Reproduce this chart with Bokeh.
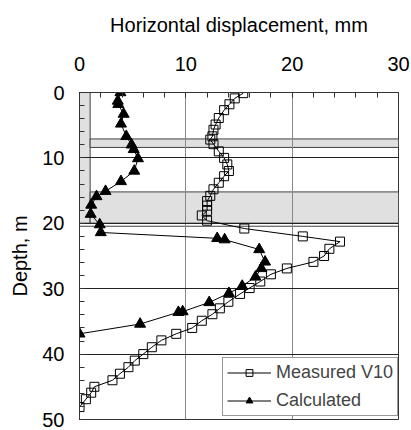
from bokeh.plotting import figure
from bokeh.models import Range1d, SingleIntervalTicker, Legend, LegendItem
from bokeh.embed import file_html
from bokeh.resources import INLINE

# Measured V10 (displacement mm, depth m)
measured_disp = [15.4, 14.6, 14.1, 13.6, 13.1, 12.8, 12.6, 12.5, 12.3, 12.6, 13.1, 13.6, 13.9,
                 14.05, 13.6, 13.1, 12.6, 12.3, 12.0, 12.0, 12.0, 11.5, 12.0, 15.5, 21.0, 24.5,
                 23.5, 23.0, 22.0, 19.5, 18.0, 17.0, 16.0, 15.1, 14.0, 13.2, 12.5, 11.5, 10.6,
                 9.1, 7.7, 6.8, 6.0, 5.2, 4.6, 3.8, 3.1, 1.4, 1.1, 0.6, 0.0]
measured_depth = [0.1, 0.9, 1.8, 2.7, 3.9, 4.9, 5.7, 6.7, 7.2, 7.9, 9.0, 10.0, 11.0,
                  12.0, 12.8, 13.8, 14.8, 15.8, 16.6, 17.3, 18.1, 18.8, 19.6, 20.8, 22.0, 22.8,
                  23.9, 25.0, 25.9, 26.9, 27.8, 28.9, 29.9, 30.8, 32.0, 33.0, 33.9, 34.9, 36.0,
                  36.9, 37.9, 38.95, 40.0, 41.0, 42.0, 43.0, 44.0, 45.0, 45.9, 46.9, 48.1]

# Calculated
calc_disp = [3.85, 3.6, 3.65, 4.15, 3.9, 4.4, 4.9, 5.1, 5.5, 5.15, 3.9, 2.45, 1.6, 1.1, 1.05,
             1.9, 2.0, 12.95, 13.65, 16.9, 17.45, 17.1, 16.55, 15.3, 14.05, 12.2, 9.7, 9.3,
             5.7, 0.0]
calc_depth = [0.0, 1.3, 1.8, 3.3, 4.8, 6.7, 8.0, 8.7, 10.1, 12.0, 13.6, 15.1, 15.9, 17.2, 18.6,
              20.2, 21.4, 22.3, 22.5, 24.0, 25.9, 26.9, 28.2, 29.6, 30.7, 32.1, 33.5, 33.6,
              35.4, 36.9]

# Shaded layers (left, right, top depth, bottom depth)
band_left = [0.0, 1.0, 1.0]
band_right = [1.0, 30.0, 30.0]
band_top = [0.0, 7.1, 15.2]
band_bottom = [20.0, 8.4, 20.0]
# thin strip below the lower layer
strip_left = [0.0]
strip_right = [30.0]
strip_top = [20.0]
strip_bottom = [20.45]

x_ticks_interval = 10
y_ticks_interval = 10

FONT = "Liberation Sans"

p = figure(width=411, height=430, output_backend="svg", toolbar_location=None,
           x_range=Range1d(0, 30), y_range=Range1d(50, 0),
           x_axis_location="above",
           min_border_left=79, min_border_right=13, min_border_top=92, min_border_bottom=11)

p.background_fill_color = "white"
p.border_fill_color = "white"
p.outline_line_color = "#333333"
p.outline_line_width = 1

# bands under grid
p.quad(left=band_left, right=band_right, top=band_top, bottom=band_bottom,
       fill_color="#e0e0e0", line_color="#404040", line_width=1, level="image")
p.quad(left=strip_left, right=strip_right, top=strip_top, bottom=strip_bottom,
       fill_color="white", line_color="#404040", line_width=1, level="image")

# axes
xa = p.xaxis[0]
xa.ticker = SingleIntervalTicker(interval=x_ticks_interval, num_minor_ticks=5)
xa.axis_label = "Horizontal displacement, mm"
ya = p.yaxis[0]
ya.ticker = SingleIntervalTicker(interval=y_ticks_interval, num_minor_ticks=5)
ya.axis_label = "Depth, m"
for ax in (xa, ya):
    ax.major_tick_in = 5
    ax.major_tick_out = 0
    ax.minor_tick_in = 5
    ax.minor_tick_out = 0
    ax.axis_line_color = "#333333"
    ax.major_tick_line_color = "#333333"
    ax.minor_tick_line_color = "#333333"
    ax.major_label_text_font = FONT
    ax.major_label_text_font_size = "20px"
    ax.major_label_text_color = "black"
    ax.axis_label_text_font = FONT
    ax.axis_label_text_font_size = "20px"
    ax.axis_label_text_font_style = "normal"
    ax.axis_label_text_color = "black"
xa.major_label_standoff = 22
xa.axis_label_standoff = 18
ya.major_label_standoff = 15
ya.axis_label_standoff = 8

p.xgrid.grid_line_color = "#888888"
p.ygrid.grid_line_color = "#222222"
p.xgrid.grid_line_width = 1
p.ygrid.grid_line_width = 1

# series
l1 = p.line(measured_disp, measured_depth, line_color="black", line_width=1)
s1 = p.scatter(measured_disp, measured_depth, marker="square", size=9,
               fill_alpha=0, line_color="black", line_width=1)
l2 = p.line(calc_disp, calc_depth, line_color="black", line_width=1)
s2 = p.scatter(calc_disp, calc_depth, marker="triangle", size=11,
               fill_color="black", line_color="black")

legend = Legend(items=[LegendItem(label="Measured V10", renderers=[l1, s1]),
                       LegendItem(label="Calculated", renderers=[l2, s2])],
                location=(143, 3), padding=4, spacing=7, margin=0,
                glyph_width=44, glyph_height=17, label_height=17, label_standoff=5,
                label_text_font=FONT, label_text_font_size="18px",
                border_line_color="#333333", border_line_width=1,
                background_fill_color="white", background_fill_alpha=1)
p.add_layout(legend)

open("out.html", "w").write(file_html(p, INLINE))
